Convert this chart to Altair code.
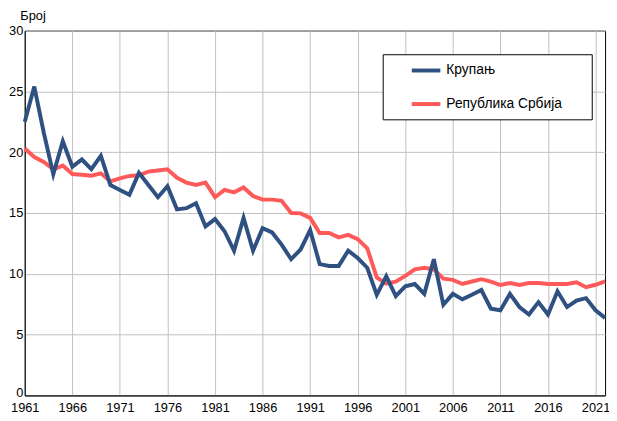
import altair as alt
import pandas as pd

years = list(range(1961, 2023))
krupanj = [22.5, 25.4, 21.6, 18.2, 20.9, 18.8, 19.4, 18.6, 19.7, 17.3,
           16.9, 16.5, 18.3, 17.3, 16.3, 17.2, 15.3, 15.4, 15.8, 13.9,
           14.5, 13.5, 11.9, 14.6, 11.9, 13.75, 13.4, 12.4, 11.2, 12.0,
           13.6, 10.8, 10.65, 10.65, 11.9, 11.3, 10.5, 8.27, 9.8, 8.16,
           8.97, 9.16, 8.35, 11.2, 7.45, 8.35, 7.9, 8.27, 8.67, 7.13,
           7.0, 8.35, 7.27, 6.65, 7.67, 6.65, 8.56, 7.27, 7.8, 8.0,
           7.0, 6.38]
srbija = [20.3, 19.6, 19.2, 18.6, 18.9, 18.2, 18.15, 18.07, 18.26, 17.6,
          17.85, 18.05, 18.1, 18.4, 18.5, 18.6, 17.9, 17.5, 17.3, 17.5,
          16.3, 16.9, 16.7, 17.1, 16.4, 16.1, 16.1, 16.0, 15.0, 14.97,
          14.6, 13.35, 13.35, 13.0, 13.2, 12.85, 12.1, 9.7, 9.2, 9.35,
          9.83, 10.37, 10.5, 10.37, 9.6, 9.5, 9.16, 9.37, 9.56, 9.35,
          9.08, 9.24, 9.08, 9.24, 9.24, 9.16, 9.16, 9.16, 9.3, 8.9,
          9.1, 9.37]
series_names = ["Крупањ", "Република Србија"]
series_colors = ["#2f5182", "#ff5a5a"]
x_ticks = list(range(1961, 2022, 5))
y_ticks = [0, 5, 10, 15, 20, 25, 30]

df_k = pd.DataFrame({"year": years, "value": krupanj, "series": series_names[0]})
df_s = pd.DataFrame({"year": years, "value": srbija, "series": series_names[1]})

FONT = "Liberation Sans"

x_enc = alt.X("year:Q",
              scale=alt.Scale(domain=[1961, 2022], nice=False, zero=False),
              axis=alt.Axis(values=x_ticks, format="d", title=None,
                            labelFontSize=13, labelColor="black", labelFont=FONT,
                            labelPadding=6, tickSize=0, labelFlush=False,
                            domainColor="black", gridColor="#c0c0c0",
                            gridWidth=1))
y_enc = alt.Y("value:Q",
              scale=alt.Scale(domain=[0, 30], nice=False),
              axis=alt.Axis(values=y_ticks, title="Број", titleAngle=0,
                            titleAlign="left", titleBaseline="bottom",
                            titleX=-5, titleY=-8, titleFontSize=13,
                            titleFontWeight="normal", titleFont=FONT,
                            titleColor="black",
                            labelFontSize=13, labelColor="black", labelFont=FONT,
                            labelOffset={"condition": {"test": "datum.value === 0", "value": -3}, "value": 0},
                            labelPadding=2, tickSize=0, domainColor="black",
                            gridColor="#c0c0c0", gridWidth=1))
color_enc = alt.Color("series:N",
                      scale=alt.Scale(domain=series_names, range=series_colors),
                      legend=alt.Legend(title="\u00a0", titleOrient="right",
                                        titlePadding=22.5, titleFontSize=1,
                                        orient="none",
                                        legendX=363, legendY=24,
                                        symbolType="M-2,0H2", symbolSize=210,
                                        symbolStrokeWidth=4, symbolFillColor="transparent",
                                        labelFontSize=14,
                                        labelFont=FONT, labelColor="black",
                                        fillColor="white", strokeColor="black",
                                        padding=7, rowPadding=16,
                                        symbolOffset=27.5, labelOffset=11,
                                        cornerRadius=0))

red = alt.Chart(df_s).mark_line(strokeWidth=4).encode(x=x_enc, y=y_enc, color=color_enc)
blue = alt.Chart(df_k).mark_line(strokeWidth=4).encode(x=x_enc, y=y_enc, color=color_enc)

chart = alt.layer(red, blue).properties(
    width=588.5, height=370,
    autosize=alt.AutoSizeParams(type="none"),
    padding={"left": 17, "top": 20, "right": 4, "bottom": 21},
    background="white",
).configure_view(stroke="black", strokeWidth=1)

chart.save("out.html", embed_options={"renderer": "svg", "actions": False})
